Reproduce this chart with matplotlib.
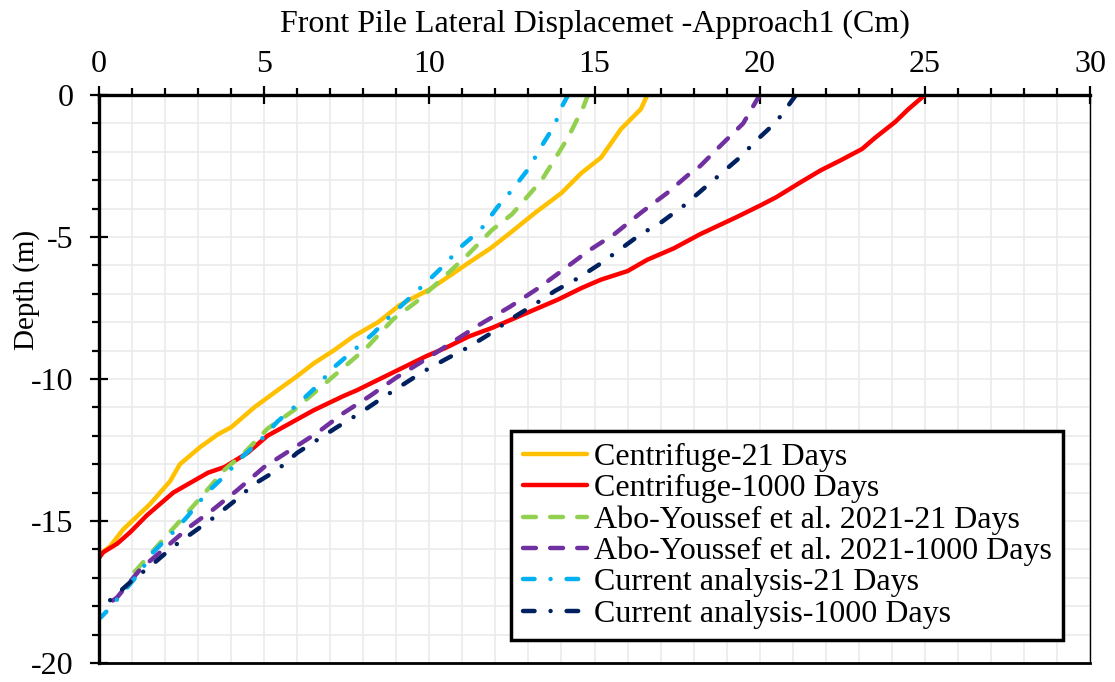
import matplotlib
matplotlib.use("Agg")
import matplotlib.pyplot as plt
from matplotlib.ticker import MultipleLocator

plt.rcParams['font.family'] = ['Liberation Serif', 'DejaVu Serif']
plt.rcParams['axes.unicode_minus'] = False

# ---- data (displacement cm, depth m) ----
cf21_x = [16.6, 16.4, 15.8, 15.2, 14.6, 14.0, 13.2, 12.4, 11.85, 11.2, 10.7, 10.0, 9.5, 9.1, 8.45, 7.7, 7.1, 6.5, 6.0, 5.4, 4.7, 4.0, 3.6, 3.06, 2.45, 2.15, 1.55, 0.73, 0.33, 0.0]
cf21_y = [0, -0.5, -1.2, -2.2, -2.75, -3.45, -4.15, -4.9, -5.4, -5.9, -6.3, -6.85, -7.15, -7.4, -8.0, -8.5, -9.0, -9.45, -9.9, -10.4, -11.0, -11.7, -11.95, -12.4, -13.0, -13.6, -14.4, -15.3, -15.9, -16.2]

cf1000_x = [25.0, 24.5, 24.1, 23.5, 23.1, 22.45, 21.85, 21.2, 20.5, 20.0, 19.3, 18.2, 17.4, 16.6, 16.0, 15.2, 14.6, 13.9, 13.3, 12.5, 11.9, 11.2, 10.5, 9.9, 9.2, 8.5, 7.8, 7.4, 6.5, 5.8, 5.1, 4.5, 3.8, 3.3, 2.7, 2.25, 1.85, 1.45, 0.94, 0.55, 0.13, 0.0]
cf1000_y = [0, -0.5, -0.95, -1.5, -1.9, -2.3, -2.65, -3.1, -3.6, -3.9, -4.3, -4.9, -5.4, -5.8, -6.2, -6.5, -6.8, -7.2, -7.5, -7.9, -8.2, -8.5, -8.9, -9.2, -9.6, -10.0, -10.4, -10.6, -11.1, -11.55, -12.0, -12.6, -13.1, -13.3, -13.7, -14.0, -14.4, -14.8, -15.4, -15.8, -16.1, -16.3]

ay21_x = [14.8, 14.67, 14.2, 13.4, 12.5, 11.9, 11.1, 10.4, 9.7, 8.9, 8.1, 7.4, 6.7, 5.9, 5.1, 4.4, 3.8, 3.06, 2.45, 1.75, 1.15, 0.8]
ay21_y = [0, -0.4, -1.5, -3.0, -4.2, -4.75, -5.7, -6.45, -7.2, -7.9, -8.9, -9.6, -10.3, -11.1, -11.75, -12.6, -13.2, -14.2, -15.0, -15.9, -16.7, -17.1]

ay1000_x = [20.0, 19.5, 18.8, 18.2, 17.9, 17.2, 16.4, 15.6, 14.8, 14.0, 13.3, 12.45, 11.5, 10.7, 9.9, 9.0, 8.2, 7.4, 6.6, 5.8, 5.0, 4.2, 3.45, 2.75, 1.95, 1.25, 0.54, 0.3]
ay1000_y = [0, -1.0, -1.8, -2.5, -2.75, -3.45, -4.15, -4.9, -5.5, -6.2, -6.8, -7.45, -8.1, -8.7, -9.3, -9.95, -10.6, -11.2, -11.9, -12.5, -13.1, -13.9, -14.6, -15.2, -16.0, -16.7, -17.7, -17.9]

ca21_x = [14.2, 13.97, 13.8, 13.45, 13.0, 12.5, 12.06, 11.55, 11.0, 10.4, 10.0, 9.4, 8.8, 8.3, 7.7, 7.1, 6.6, 6.0, 5.4, 4.9, 4.33, 3.77, 3.27, 2.67, 2.24, 1.64, 1.24, 0.74, 0.3, 0.05]
ca21_y = [0, -0.5, -1.05, -1.7, -2.6, -3.35, -3.95, -4.75, -5.3, -6.05, -6.5, -7.15, -7.8, -8.4, -9.0, -9.6, -10.25, -10.9, -11.5, -12.15, -12.75, -13.45, -14.0, -14.85, -15.4, -16.1, -16.8, -17.5, -18.1, -18.4]

ca1000_x = [21.1, 20.5, 19.9, 19.4, 18.7, 18.2, 17.7, 17.0, 16.4, 15.7, 15.1, 14.5, 13.8, 13.15, 12.45, 11.85, 11.15, 10.5, 9.8, 9.2, 8.6, 7.9, 7.2, 6.0, 5.4, 4.7, 4.1, 3.45, 2.85, 2.25, 1.65, 1.0, 0.42, 0.0]
ca1000_y = [0, -0.95, -1.6, -2.2, -2.9, -3.4, -3.9, -4.5, -4.9, -5.5, -6.0, -6.45, -6.9, -7.4, -7.9, -8.4, -8.9, -9.3, -9.75, -10.2, -10.65, -11.2, -11.7, -12.6, -13.2, -13.7, -14.3, -14.9, -15.4, -15.9, -16.5, -17.1, -17.7, -18.15]

labels = ["Centrifuge-21 Days", "Centrifuge-1000 Days",
          "Abo-Youssef et al. 2021-21 Days", "Abo-Youssef et al. 2021-1000 Days",
          "Current analysis-21 Days", "Current analysis-1000 Days"]
x_ticks = [0, 5, 10, 15, 20, 25, 30]
y_ticks = [0, -5, -10, -15, -20]

FS = 23

fig = plt.figure(figsize=(11.15, 6.82), dpi=100)
ax = fig.add_axes([0.0888, 0.0279, 0.8888, 0.8328])

lw = 3.2
dash = (0, (2.9, 3.2))
dashdot = (0, (2.6, 3.6, 0.01, 3.6))

ax.plot(cf21_x, cf21_y, color='#FFC000', lw=lw, label=labels[0], solid_capstyle='round')
ax.plot(cf1000_x, cf1000_y, color='#FF0000', lw=lw, label=labels[1], solid_capstyle='round')
ax.plot(ay21_x, ay21_y, color='#92D050', lw=lw, ls=dash, dash_capstyle='round', label=labels[2])
ax.plot(ay1000_x, ay1000_y, color='#7030A0', lw=lw, ls=dash, dash_capstyle='round', label=labels[3])
ax.plot(ca21_x, ca21_y, color='#00B0F0', lw=lw, ls=dashdot, dash_capstyle='round', label=labels[4])
ax.plot(ca1000_x, ca1000_y, color='#002060', lw=lw, ls=dashdot, dash_capstyle='round', label=labels[5])

ax.set_xlim(0, 30)
ax.set_ylim(-20, 0)
ax.set_xticks(x_ticks)
ax.set_yticks(y_ticks)
ax.xaxis.set_minor_locator(MultipleLocator(1))
ax.yaxis.set_minor_locator(MultipleLocator(1))
ax.grid(which='both', color='#ebebeb', lw=1.2, zorder=0)
ax.set_axisbelow(True)

ax.xaxis.tick_top()
ax.xaxis.set_label_position('top')
ax.tick_params(axis='both', which='major', direction='inout', length=13, width=1.6,
               labelsize=FS, pad=5)
ax.tick_params(axis='both', which='minor', direction='out', length=5, width=1.6)
ax.tick_params(axis='x', which='both', top=True, bottom=False)
ax.tick_params(axis='y', which='both', left=True, right=False)
ax.tick_params(axis='y', which='major', pad=12)

for s, w in [('left', 2.4), ('top', 2.4), ('bottom', 2.0), ('right', 1.0)]:
    ax.spines[s].set_linewidth(w)
    ax.spines[s].set_color('black')

ax.set_xlabel("Front Pile Lateral Displacemet -Approach1 (Cm)", fontsize=FS, labelpad=13)
ax.set_ylabel("Depth (m)", fontsize=21)
ax.yaxis.set_label_coords(-0.060, 0.657)

leg = ax.legend(loc='lower right', bbox_to_anchor=(0.973, 0.04), fontsize=FS,
                frameon=True, fancybox=False, edgecolor='black', framealpha=1,
                handlelength=2.0, handletextpad=0.22, labelspacing=0.06,
                borderpad=0.36, borderaxespad=0)
leg.get_frame().set_linewidth(2.5)

fig.savefig("out.png", dpi=100)
